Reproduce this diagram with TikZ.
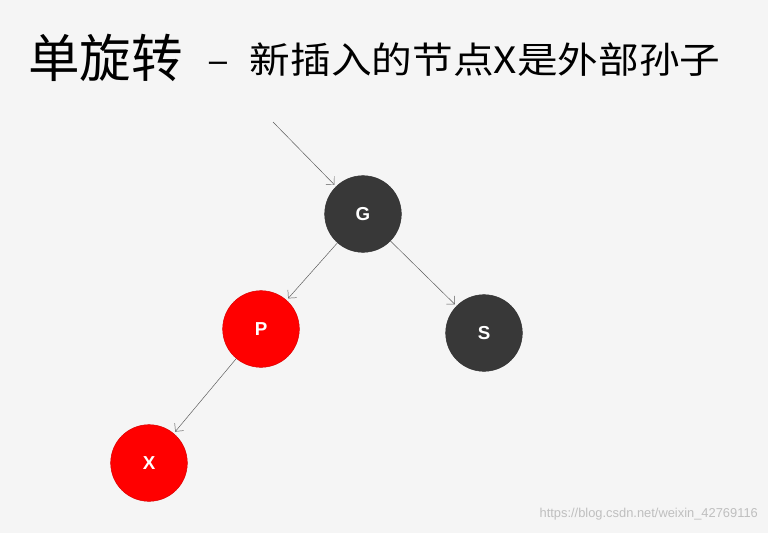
\documentclass[tikz,border=0pt]{standalone}
\usepackage{fontspec}
\setmainfont{Liberation Sans}
\newfontfamily\cjk{Noto Sans CJK SC}
\usetikzlibrary{arrows.meta}
\begin{document}
\begin{tikzpicture}[x=0.03cm,y=-0.03cm]
\tikzset{
  blacknode/.style={circle, draw=black!80, fill=black!78, minimum size=2.3cm, inner sep=0pt,
    text=white, font=\bfseries\fontsize{16}{16}\selectfont},
  rednode/.style={blacknode, fill=red, draw=red!85!black},
  edge/.style={draw=black!65, -{Straight Barb[length=5pt]}, shorten >=2pt}
}
% background and bounding box
\fill[black!4] (0,0) rectangle (768,533);
% title
\node[anchor=west, font=\cjk\fontsize{44}{44}\selectfont] (title) at (24,58) {单旋转};
\node[anchor=west, xscale=1.12, font=\cjk\fontsize{31}{31}\selectfont] (subtitle) at (203,60) {–\; 新插入的节点X是外部孙子};
% nodes
\node[blacknode] (G) at (363,214) {G};
\node[rednode] (P) at (261,329) {P};
\node[blacknode] (S) at (484,333) {S};
\node[rednode] (X) at (149,463) {X};
\coordinate (in) at (273,122);
% edges
\draw[edge] (in) -- (G);
\draw[edge] (G) -- (P);
\draw[edge] (G) -- (S);
\draw[edge] (P) -- (X);
% watermark
\node[anchor=east, text=black!25, font=\fontsize{11}{11}\selectfont] (mark) at (762,514) {https://blog.csdn.net/weixin\_42769116};
\end{tikzpicture}
\end{document}
